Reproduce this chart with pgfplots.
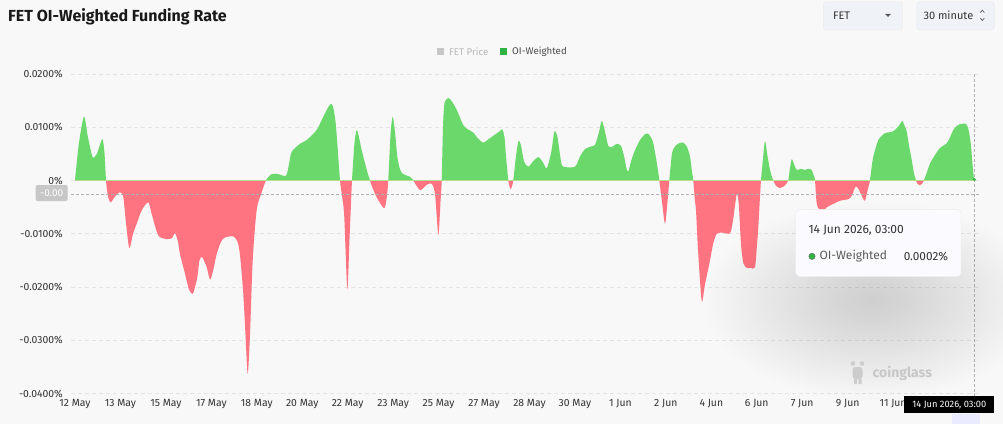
\documentclass[border=0pt]{standalone}
\usepackage{fontspec}
\setmainfont{Fira Sans}
\usepackage{pgfplots}
\usepackage{pgfplotstable}
\pgfplotsset{compat=1.18}
\usetikzlibrary{fadings}

\definecolor{bg}{HTML}{F8F8F8}
\definecolor{posc}{HTML}{6AD86A}
\definecolor{negc}{HTML}{FF7480}
\definecolor{gridc}{HTML}{E4E4E4}
\definecolor{txt}{HTML}{333333}
\definecolor{zeroc}{HTML}{B9DC8E}
\definecolor{legg}{HTML}{2FB344}
\definecolor{boxc}{HTML}{EFF2F6}

\tikzfading[name=softshadow, inner color=transparent!0, outer color=transparent!100]

% x = horizontal position along the period (0 = 12 May, 900 = 14 Jun 03:00), v = funding rate in units of 0.01%
\pgfplotstableread{
x v
0 0
4 0.7
9 1.19
13 0.8
17.7 0.43
22 0.5
27.3 0.77
29.5 0.5
31 0
33 -0.3
35.7 -0.41
40 -0.3
45 -0.22
48.3 -0.31
51 -0.8
54.3 -1.27
58 -1.0
61.7 -0.81
67 -0.55
73.3 -0.41
76.7 -0.63
83.3 -1.03
91.7 -1.10
97 -1.08
100 -0.99
103 -1.15
105 -1.38
110 -1.75
114 -2.05
117.7 -2.13
120 -2.0
122.3 -1.82
124.5 -1.50
127.3 -1.44
131.7 -1.63
135 -1.86
138 -1.70
141.7 -1.38
146 -1.15
150 -1.07
158.3 -1.05
162.5 -1.15
165 -1.40
168.3 -2.13
170.5 -2.90
172.7 -3.63
175 -2.90
177.7 -1.50
181.7 -0.55
186.7 -0.22
191 0
196.7 0.11
203.3 0.11
211 0.08
214 0.30
216.7 0.53
225 0.68
231.7 0.75
241.7 0.94
248.3 1.19
255 1.42
258 1.38
260.5 1.10
262.3 0.69
265 0
267.5 -0.35
269.3 -0.69
272.3 -2.04
274.5 -1.10
275.7 -0.56
277 0
279.5 0.70
281.7 0.94
284 0.80
286.7 0.56
293.3 0.09
300 -0.25
305 -0.42
309.3 -0.52
311.5 -0.35
313.3 0
315.5 0.85
317.7 1.19
320 0.90
322.3 0.44
325 0.20
328.3 0.11
335 0.06
338.3 0
345 -0.18
351.7 -0.08
356.7 -0.06
360 -0.25
363.3 -1.02
365.5 -0.40
366.7 0
368 1.00
369.5 1.44
373.3 1.54
377 1.47
381.7 1.32
388.3 1.03
393 0.95
398.3 0.89
403 0.78
408.3 0.70
413 0.76
418.3 0.83
425 0.92
427.3 0.95
429.5 0.80
431 0.45
433.3 0
435.7 -0.16
438.3 0
441 0.45
443.5 0.73
446 0.65
449 0.35
453.3 0.25
458 0.35
463.3 0.43
468 0.33
471.7 0.22
476 0.50
479.5 0.91
482.5 0.80
486 0.35
488.3 0.25
500 0.25
505 0.44
510 0.58
516 0.63
520 0.66
524 0.90
526.7 1.11
529.5 0.95
533.3 0.64
537 0.62
541.7 0.68
546 0.64
549 0.45
551.5 0.22
553.3 0.16
556 0.35
560 0.56
565 0.75
570 0.86
573 0.87
576 0.80
578.3 0.69
582 0.30
584.3 0
587 -0.40
590 -0.81
592.5 -0.40
594.3 0
597 0.50
600 0.63
604 0.69
608.3 0.70
612 0.62
615 0.44
617 0.15
618.3 0
620 -0.40
621 -0.56
623 -1.30
626.7 -2.26
630 -1.95
635 -1.50
638 -1.20
641.7 -1.00
648 -0.98
655 -0.99
658 -0.75
661.7 -0.26
663.8 -0.45
666 -1.20
668.3 -1.55
671.7 -1.64
676 -1.64
680 -1.63
682 -1.20
683.3 -0.88
685 -0.30
686 0
688 0.40
690 0.73
692.5 0.45
695 0.19
697 0.05
698.3 0
701 -0.10
705 -0.14
708 -0.12
710 -0.09
713.3 0
714.8 0.20
716.7 0.39
719 0.30
721.7 0.19
726 0.21
730 0.19
733 0.21
736.7 0.19
738.8 0.08
740 0
741.5 -0.40
743.3 -0.52
747 -0.58
752 -0.50
758.3 -0.44
765 -0.38
773.3 -0.35
777 -0.28
780 -0.13
782.5 -0.13
785 -0.22
788 -0.34
790 -0.38
791.8 -0.25
793.3 -0.13
795 0
796.7 0.25
798.3 0.44
803.3 0.75
810 0.88
816 0.90
820 0.94
824 1.02
827.3 1.11
829.5 1.02
831.7 0.91
834 0.65
836.7 0.38
839 0.12
841 0
843 -0.07
845 -0.09
847 -0.06
849 0
852 0.15
855 0.31
860 0.47
865 0.60
871.7 0.69
875 0.80
878.3 0.94
882 1.02
885 1.05
888.5 1.06
891.7 1.04
893.8 0.92
895.7 0.69
897.5 0.30
899 0.02
900 0.02
}\fundtab

\pgfplotsset{half/.style={
  scale only axis, width=908pt, xmin=-4, xmax=904,
  hide axis, clip=true}}

\begin{document}
\begin{tikzpicture}[x=1pt,y=1pt]
\fill[bg] (0,0) rectangle (1003,-424);
\useasboundingbox (0,0) rectangle (1003,-424);

% title
\node[anchor=west, inner sep=0pt, font=\fontsize{16}{19}\selectfont\bfseries, text=black!90] at (8,-17) {FET OI-Weighted Funding Rate};

% legend
\fill[black!22] (436.8,-47.8) rectangle (443.8,-54.8);
\node[anchor=west, inner sep=0pt, font=\fontsize{9.7}{11}\selectfont, text=black!28] at (449,-51.5) {FET Price};
\fill[legg] (500,-47.8) rectangle (507,-54.8);
\node[anchor=west, inner sep=0pt, font=\fontsize{9.7}{11}\selectfont, text=black!70] at (512,-51.5) {OI-Weighted};

% selectors
\filldraw[fill=boxc, draw=black!8, rounded corners=3pt] (823.3,-1.7) rectangle (902.7,-30);
\node[anchor=west, inner sep=0pt, font=\fontsize{11}{13}\selectfont, text=txt] at (833,-15.5) {FET};
\fill[black!65] (885,-13.8) -- (891,-13.8) -- (888,-17) -- cycle;
\filldraw[fill=boxc, draw=black!8, rounded corners=3pt] (916.7,-1.7) rectangle (994.3,-30);
\node[anchor=west, inner sep=0pt, font=\fontsize{11}{13}\selectfont, text=txt] at (923.3,-15.5) {30 minute};
\draw[black!60, line width=0.8pt] (980.3,-12.5) -- (982.3,-10.3) -- (984.3,-12.5);
\draw[black!60, line width=0.8pt] (980.3,-18.2) -- (982.3,-20.4) -- (984.3,-18.2);

% main axis: grid and labels
\begin{axis}[
  at={(71pt,-393.5pt)}, anchor=south west,
  scale only axis, width=908pt, height=319.5pt,
  xmin=-4, xmax=904, ymin=-4, ymax=2,
  axis line style={draw=none}, major tick style={draw=none},
  ymajorgrids, grid style={gridc, dash pattern=on 4pt off 3pt, line width=0.6pt},
  ytick={-4,-3,-2,-1,0,1,2},
  yticklabels={-0.0400\%,-0.0300\%,-0.0200\%,-0.0100\%,0\%,0.0100\%,0.0200\%},
  xtick={0,45.45,90.9,136.35,181.8,227.25,272.7,318.15,363.6,409.05,454.5,499.95,545.4,590.85,636.3,681.75,727.2,772.65,818.1},
  xticklabels={12 May,13 May,15 May,17 May,18 May,20 May,22 May,23 May,25 May,27 May,28 May,30 May,1 Jun,2 Jun,4 Jun,6 Jun,7 Jun,9 Jun,11 Jun},
  tick label style={font=\fontsize{10.4}{12}\selectfont, text=txt},
  yticklabel style={anchor=east, inner sep=0pt, xshift=-8pt},
  xticklabel style={anchor=north, inner sep=0pt, yshift=-5.5pt},
  clip=false,
]
\addplot[draw=none] coordinates {(0,0) (900,0)};
\end{axis}

% positive half (clipped at zero)
\begin{axis}[half, at={(71pt,-180pt)}, anchor=south west, height=106.5pt, ymin=0, ymax=2]
\addplot[fill=posc, draw=none, smooth, tension=0.45] table[x=x,y=v]{\fundtab} \closedcycle;
\end{axis}
% negative half (clipped at zero)
\begin{axis}[half, at={(71pt,-393.5pt)}, anchor=south west, height=213pt, ymin=-4, ymax=0]
\addplot[fill=negc, draw=none, smooth, tension=0.45] table[x=x,y=v]{\fundtab} \closedcycle;
\end{axis}

% overlay: zero line, crosshair and end marker
\begin{axis}[
  at={(71pt,-393.5pt)}, anchor=south west,
  scale only axis, width=908pt, height=319.5pt,
  xmin=-4, xmax=904, ymin=-4, ymax=2, hide axis, clip=false]
\draw[zeroc, line width=0.9pt] (axis cs:0,0) -- (axis cs:899.3,0);
\draw[black!30, dash pattern=on 3pt off 2pt, line width=0.6pt] (axis cs:-4,-0.25) -- (axis cs:904,-0.25);
\draw[black!30, dash pattern=on 3pt off 2pt, line width=0.6pt] (axis cs:899.3,2) -- (axis cs:899.3,-4.05);
\addplot[only marks, mark=*, mark size=1.3pt, color=legg] coordinates {(899.3,0.02)};
\end{axis}

% crosshair y label
\fill[black!22, rounded corners=2pt] (35.7,-185) rectangle (67.7,-201);
\node[inner sep=0pt, font=\fontsize{10}{11}\selectfont, text=white] at (51.7,-193) {-0.00};

% tooltip shadow
\fill[black, opacity=0.17, path fading=softshadow] (872,-300) ellipse (170 and 100);
% tooltip
\filldraw[fill=white!96!blue!40!white, draw=black!8, rounded corners=4pt] (795.7,-209.3) rectangle (961,-276.7);
\node[anchor=west, inner sep=0pt, font=\fontsize{12}{14}\selectfont, text=txt] at (808.3,-230.7) {14 Jun 2026, 03:00};
\filldraw[fill=legg, draw=black!60, line width=0.4pt] (812,-256.3) circle (3.2);
\node[anchor=west, inner sep=0pt, font=\fontsize{12}{14}\selectfont, text=black!65] at (819.3,-256.3) {OI-Weighted};
\node[anchor=east, inner sep=0pt, font=\fontsize{11.8}{14}\selectfont, text=txt] at (948.3,-256.3) {0.0002\%};

% watermark
\fill[black!20, rounded corners=3pt] (852.5,-367) rectangle (862.5,-379);
\fill[black!20] (853,-363.5) circle (2.2) (862,-363.5) circle (2.2);
\fill[black!20] (854,-379) rectangle (857,-384) (858.5,-379) rectangle (861.5,-384);
\node[anchor=west, inner sep=0pt, font=\fontsize{14}{16}\selectfont\bfseries, text=black!22] at (872.5,-373.5) {coinglass};

% crosshair x label
\fill[black] (904.3,-396) rectangle (994.3,-413.3);
\node[inner sep=0pt, font=\fontsize{9.3}{11}\selectfont, text=white] at (949.3,-404.7) {14 Jun 2026, 03:00};
\fill[blue!8] (951.7,-414) rectangle (980,-424);
\end{tikzpicture}
\end{document}
